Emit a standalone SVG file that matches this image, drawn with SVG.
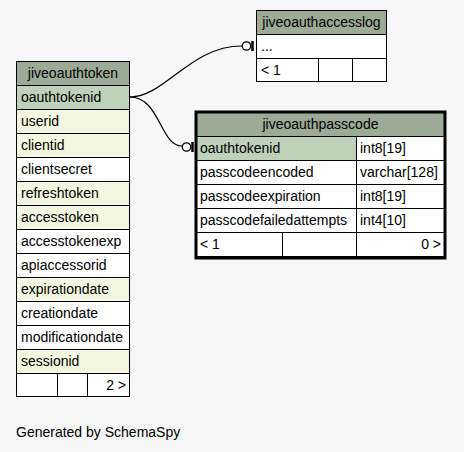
<svg xmlns="http://www.w3.org/2000/svg" width="464" height="452" viewBox="0 0 464 452">
<style>
text{font-family:"Liberation Sans",Arial,sans-serif;font-size:14px;fill:#000}
.c{stroke:#000;stroke-width:1}
.h{fill:#9CAB96}
.pk{fill:#BED1B9}
.ix{fill:#F4F7DF}
.w{fill:#fff}
.e{fill:none;stroke:#000;stroke-width:1.2}
.m{text-anchor:middle}
.r{text-anchor:end}
</style>
<rect width="464" height="452" fill="#F7F7F7"/>
<g id="connectors">
<path class="e" d="M130,97 C165,97 190,46 242,46"/>
<circle cx="246.5" cy="46" r="4.2" fill="#fff" stroke="#000" stroke-width="1.3"/>
<line x1="252.5" y1="41" x2="252.5" y2="51" stroke="#000" stroke-width="2.5"/>
<path class="e" d="M130,97 C160,97 160,146 182,146"/>
<circle cx="186.5" cy="147" r="4.2" fill="#fff" stroke="#000" stroke-width="1.3"/>
<line x1="192.5" y1="142" x2="192.5" y2="152" stroke="#000" stroke-width="2.5"/>
</g>
<g id="jiveoauthtoken">
<rect class="c h" x="16.5" y="61.5" width="113" height="24"/>
<text class="m" x="73" y="78">jiveoauthtoken</text>
<rect class="c pk" x="16.5" y="85.5" width="113" height="24"/>
<text x="21" y="102">oauthtokenid</text>
<rect class="c ix" x="16.5" y="109.5" width="113" height="24"/>
<text x="21" y="126">userid</text>
<rect class="c ix" x="16.5" y="133.5" width="113" height="24"/>
<text x="21" y="150">clientid</text>
<rect class="c w" x="16.5" y="157.5" width="113" height="24"/>
<text x="21" y="174">clientsecret</text>
<rect class="c ix" x="16.5" y="181.5" width="113" height="24"/>
<text x="21" y="198">refreshtoken</text>
<rect class="c ix" x="16.5" y="205.5" width="113" height="24"/>
<text x="21" y="222">accesstoken</text>
<rect class="c w" x="16.5" y="229.5" width="113" height="24"/>
<text x="21" y="246">accesstokenexp</text>
<rect class="c w" x="16.5" y="253.5" width="113" height="24"/>
<text x="21" y="270">apiaccessorid</text>
<rect class="c ix" x="16.5" y="277.5" width="113" height="24"/>
<text x="21" y="294">expirationdate</text>
<rect class="c w" x="16.5" y="301.5" width="113" height="24"/>
<text x="21" y="318">creationdate</text>
<rect class="c w" x="16.5" y="325.5" width="113" height="24"/>
<text x="21" y="342">modificationdate</text>
<rect class="c ix" x="16.5" y="349.5" width="113" height="24"/>
<text x="21" y="366">sessionid</text>
<rect class="c w" x="16.5" y="373.5" width="113" height="23"/>
<line class="c" x1="57.5" y1="373.5" x2="57.5" y2="396.5"/>
<line class="c" x1="87.5" y1="373.5" x2="87.5" y2="396.5"/>
<text class="r" x="126" y="390">2 &gt;</text>
</g>
<g id="jiveoauthaccesslog">
<rect class="c h" x="256.5" y="10.5" width="130" height="24"/>
<text class="m" x="321.5" y="27">jiveoauthaccesslog</text>
<rect class="c w" x="256.5" y="34.5" width="130" height="24"/>
<text x="261" y="51">...</text>
<rect class="c w" x="256.5" y="58.5" width="130" height="23"/>
<line class="c" x1="318.5" y1="58.5" x2="318.5" y2="81.5"/>
<line class="c" x1="352.5" y1="58.5" x2="352.5" y2="81.5"/>
<text x="261" y="75">&lt; 1</text>
</g>
<g id="jiveoauthpasscode">
<rect class="c h" x="196" y="112" width="249" height="24.5"/>
<text class="m" x="320.5" y="129">jiveoauthpasscode</text>
<rect class="c pk" x="196.5" y="136.5" width="160" height="24"/>
<rect class="c w" x="356.5" y="136.5" width="88" height="24"/>
<text x="200" y="153">oauthtokenid</text>
<text x="360" y="153">int8[19]</text>
<rect class="c w" x="196.5" y="160.5" width="160" height="24"/>
<rect class="c w" x="356.5" y="160.5" width="88" height="24"/>
<text x="200" y="177">passcodeencoded</text>
<text x="360" y="177">varchar[128]</text>
<rect class="c w" x="196.5" y="184.5" width="160" height="24"/>
<rect class="c w" x="356.5" y="184.5" width="88" height="24"/>
<text x="200" y="201">passcodeexpiration</text>
<text x="360" y="201">int8[19]</text>
<rect class="c w" x="196.5" y="208.5" width="160" height="24"/>
<rect class="c w" x="356.5" y="208.5" width="88" height="24"/>
<text x="200" y="225">passcodefailedattempts</text>
<text x="360" y="225">int4[10]</text>
<rect class="c w" x="196.5" y="232.5" width="248" height="24"/>
<line class="c" x1="282.5" y1="232.5" x2="282.5" y2="256.5"/>
<line class="c" x1="356.5" y1="232.5" x2="356.5" y2="256.5"/>
<text x="200" y="249">&lt; 1</text>
<text class="r" x="441" y="249">0 &gt;</text>
<rect x="196" y="112" width="249" height="146" fill="none" stroke="#000" stroke-width="3"/>
</g>
<text x="16" y="437">Generated by SchemaSpy</text>
</svg>
